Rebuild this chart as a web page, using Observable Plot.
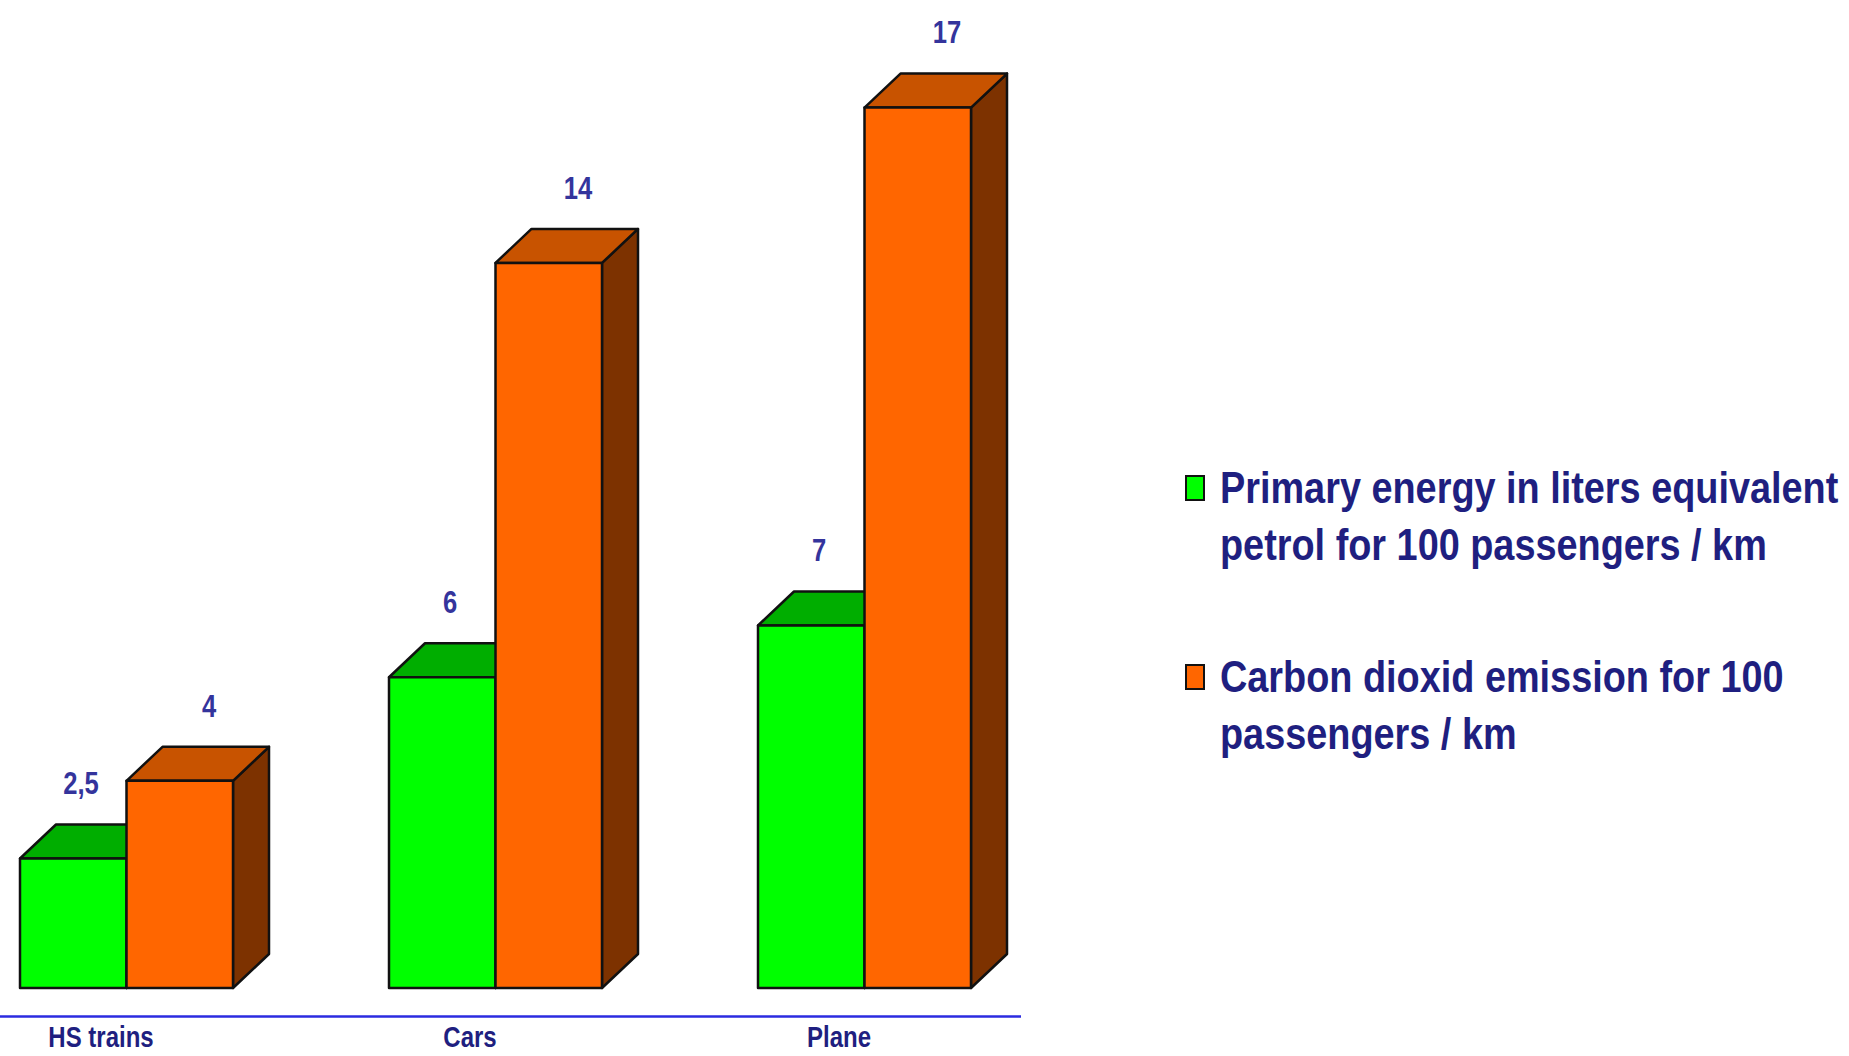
<!DOCTYPE html>
<html>
<head>
<meta charset="utf-8">
<script src="https://cdn.jsdelivr.net/npm/d3@7"></script>
<script src="https://cdn.jsdelivr.net/npm/@observablehq/plot@0.6"></script>
<style>
  html, body { margin: 0; padding: 0; background: #fff; }
  #wrap { position: relative; width: 1849px; height: 1056px; overflow: hidden; }
  #legend { position: absolute; left: 1185px; top: 459px; }
  .item { display: flex; align-items: flex-start; margin-bottom: 75px; }
  .sw { width: 16px; height: 22px; border: 2px solid #111; margin-top: 16px; margin-right: 15px; flex: none; }
  .lab { width: 740px; transform: scaleX(0.86); transform-origin: 0 0; font-family: "Liberation Sans", Arial, sans-serif; font-weight: bold; font-size: 44px; line-height: 57px; color: #1f1f80; }
</style>
</head>
<body>
<div id="wrap"></div>
<script>
// ---- data ----
const categories = ["HS trains", "Cars", "Plane"];
const seriesNames = [
  "Primary energy in liters equivalent petrol for 100 passengers / km",
  "Carbon dioxid emission for 100 passengers / km"
];
const energyValues = [2.5, 6, 7];
const co2Values = [4, 14, 17];

// ---- styles ----
const frontColors = ["#00FF00", "#FF6600"];
const topColors = ["#00AE00", "#C85300"];
const sideColors = ["#007A00", "#7D3200"];
const font = "'Liberation Sans', Arial, sans-serif";

const rows = categories.flatMap((c, i) => [
  {category: c, series: 0, value: energyValues[i]},
  {category: c, series: 1, value: co2Values[i]}
]);
const fmt = v => String(v).replace(".", ",");

function bars3d(index, scales, values, dims, context) {
  const {x, y} = scales;
  const doc = (context && context.document) || document;
  const ns = "http://www.w3.org/2000/svg";
  const g = doc.createElementNS(ns, "g");
  g.setAttribute("stroke", "#111");
  g.setAttribute("stroke-width", "2.5");
  g.setAttribute("stroke-linejoin", "round");
  const half = x.bandwidth() / 2;
  const D = 36, E = 34;
  const poly = (pts, fill) => {
    const p = doc.createElementNS(ns, "polygon");
    p.setAttribute("points", pts.map(q => q.join(",")).join(" "));
    p.setAttribute("fill", fill);
    g.appendChild(p);
  };
  for (const s of [0, 1]) {
    for (const r of rows.filter(d => d.series === s)) {
      const x0 = x(r.category) + s * half, x1 = x0 + half;
      const yt = y(r.value), yb = y(0);
      poly([[x1, yb], [x1 + D, yb - E], [x1 + D, yt - E], [x1, yt]], sideColors[s]);
      poly([[x0, yt], [x0 + D, yt - E], [x1 + D, yt - E], [x1, yt]], topColors[s]);
      poly([[x0, yb], [x1, yb], [x1, yt], [x0, yt]], frontColors[s]);
    }
  }
  return g;
}

const chart = Plot.plot({
  width: 1849,
  height: 1056,
  marginLeft: 19,
  marginRight: 877,
  marginTop: 4,
  marginBottom: 68,
  style: {background: "transparent", overflow: "visible"},
  x: {type: "band", domain: categories, paddingInner: 0.424, paddingOuter: 0, axis: null},
  y: {domain: [0, 19], axis: null},
  marks: [
    Plot.ruleY([0], {dy: 28, stroke: "#2b2be0", strokeWidth: 2.5, insetLeft: -19, insetRight: -49}),
    bars3d,
    Plot.text(rows.filter(d => d.series === 0), {
      x: "category", y: "value", text: d => fmt(d.value),
      dx: -46, dy: -75, fill: "#34349c", fontSize: 32, fontWeight: "bold", fontFamily: font
    }),
    Plot.text(rows.filter(d => d.series === 1), {
      x: "category", y: "value", text: d => fmt(d.value),
      dx: 82, dy: -75, fill: "#34349c", fontSize: 32, fontWeight: "bold", fontFamily: font
    }),
    Plot.text(categories, {
      x: d => d, y: () => 0, text: d => d,
      dx: -26, dy: 49, fill: "#1f1f80", fontSize: 30, fontWeight: "bold", fontFamily: font
    })
  ]
});

// condense the text horizontally (narrow bold face look)
chart.querySelectorAll("text").forEach(t => {
  const tr = t.getAttribute("transform");
  if (tr) {
    t.setAttribute("transform", tr + " scale(0.8,1)");
  } else {
    const x = +(t.getAttribute("x") || 0), y = +(t.getAttribute("y") || 0);
    t.removeAttribute("x"); t.removeAttribute("y");
    t.setAttribute("transform", `translate(${x},${y}) scale(0.8,1)`);
  }
});

const wrap = document.getElementById("wrap");
wrap.appendChild(chart);

const legend = document.createElement("div");
legend.id = "legend";
seriesNames.forEach((name, i) => {
  const item = document.createElement("div");
  item.className = "item";
  const sw = document.createElement("div");
  sw.className = "sw";
  sw.style.background = frontColors[i];
  const lab = document.createElement("div");
  lab.className = "lab";
  lab.textContent = name;
  item.appendChild(sw);
  item.appendChild(lab);
  legend.appendChild(item);
});
wrap.appendChild(legend);
</script>
</body>
</html>
